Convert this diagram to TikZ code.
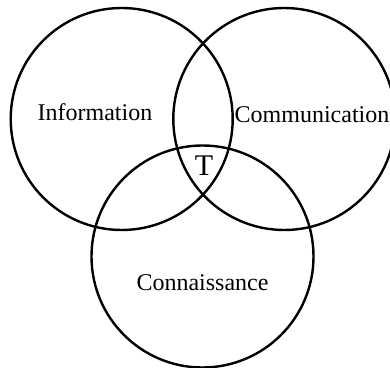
\documentclass[tikz,border=0pt]{standalone}
\usepackage{fontspec}
\setmainfont{Liberation Serif}

\begin{document}
\begin{tikzpicture}[x=0.5pt, y=-0.5pt,
    set/.style={draw, line width=1.2pt, circle, minimum size=111pt, inner sep=0pt},
    lbl/.style={anchor=base, inner sep=0pt, font=\fontsize{12}{14}\selectfont}]
  \useasboundingbox (0,0) rectangle (390,368);
  % the three sets
  \node (info) [set] at (121.7,119) {};
  \node (comm) [set] at (284.3,119) {};
  \node (conn) [set] at (202.5,256.5) {};
  % labels
  \node (infolbl) [lbl] at (95,120.5) {Information};
  \node (commlbl) [lbl] at (312,123) {Communication};
  \node (connlbl) [lbl] at (202.5,291) {Connaissance};
  \node (t) [lbl, font=\fontsize{15}{18}\selectfont] at (204,176) {T};
\end{tikzpicture}
\end{document}
